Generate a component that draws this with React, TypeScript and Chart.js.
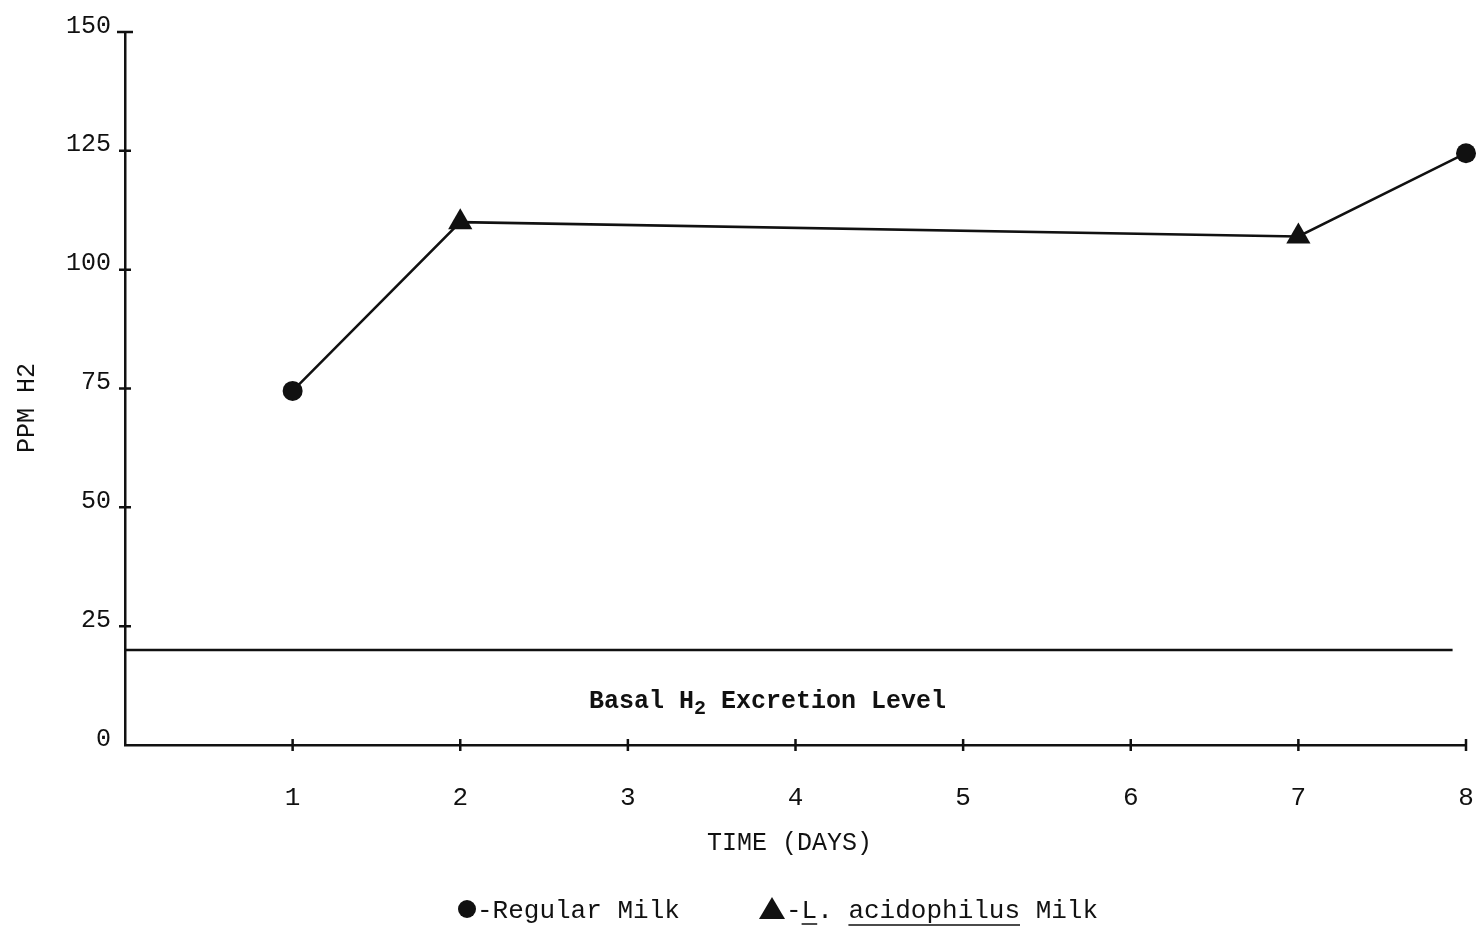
import React, { useEffect, useRef } from "react";
import { Chart, registerables } from "chart.js";

Chart.register(...registerables);

// Breath hydrogen over the feeding period
const DAYS = [1, 2, 7, 8];
const PPM_H2 = [74.5, 110, 107, 124.5];
const MILK_TYPE = ["regular", "acidophilus", "acidophilus", "regular"];
const BASAL_LEVEL = 20;
const BASAL_SPAN = [0, 7.92];
const X_TICKS = [0, 1, 2, 3, 4, 5, 6, 7, 8];
const Y_TICKS = [0, 25, 50, 75, 100, 125, 150];

const INK = "#111";
const MONO = '"Liberation Mono", "DejaVu Sans Mono", monospace';

const markerFor = (t: string) => (t === "regular" ? "circle" : "triangle");
const radiusFor = (t: string) => (t === "regular" ? 10 : 14);

const decorations = {
  id: "decorations",
  afterDraw(chart: any) {
    const { ctx, scales } = chart;
    const x = scales.x;
    const y = scales.y;
    ctx.save();
    ctx.strokeStyle = INK;
    ctx.fillStyle = INK;
    ctx.lineWidth = 2.5;

    // tick marks crossing the axes
    ctx.beginPath();
    for (const v of Y_TICKS) {
      if (v === 0) continue;
      const py = y.getPixelForValue(v);
      const half = v === 150 ? 8 : 6;
      ctx.moveTo(x.left - half, py);
      ctx.lineTo(x.left + half, py);
    }
    for (const d of X_TICKS) {
      if (d === 0) continue;
      const px = x.getPixelForValue(d);
      ctx.moveTo(px, y.bottom - 6);
      ctx.lineTo(px, y.bottom + 6);
    }
    ctx.stroke();

    // axis titles
    ctx.font = `25px ${MONO}`;
    ctx.textAlign = "center";
    ctx.textBaseline = "middle";
    ctx.fillText("TIME (DAYS)", (x.left + x.right) / 2 - 6, 843);
    ctx.save();
    ctx.translate(27, 408);
    ctx.rotate(-Math.PI / 2);
    ctx.fillText("PPM H2", 0, 0);
    ctx.restore();

    // basal level caption
    ctx.textAlign = "left";
    ctx.textBaseline = "alphabetic";
    const big = `bold 25px ${MONO}`;
    const small = `bold 20px ${MONO}`;
    let cx = 589;
    const by = y.getPixelForValue(BASAL_LEVEL) + 58;
    ctx.font = big;
    ctx.fillText("Basal H", cx, by);
    cx += ctx.measureText("Basal H").width;
    ctx.font = small;
    ctx.fillText("2", cx, by + 6);
    cx += ctx.measureText("2").width;
    ctx.font = big;
    ctx.fillText(" Excretion Level", cx, by);

    // legend
    const ly = 918;
    ctx.font = `26px ${MONO}`;
    ctx.beginPath();
    ctx.arc(467, ly - 9, 9, 0, Math.PI * 2);
    ctx.fill();
    ctx.fillText("-Regular Milk", 477, ly);

    ctx.beginPath();
    ctx.moveTo(772, ly - 21);
    ctx.lineTo(785, ly + 1);
    ctx.lineTo(759, ly + 1);
    ctx.closePath();
    ctx.fill();
    const t1 = "-";
    const t2 = "L";
    const t3 = ". ";
    const t4 = "acidophilus";
    const t5 = " Milk";
    let lx = 786;
    ctx.fillText(t1, lx, ly);
    lx += ctx.measureText(t1).width;
    const uL = lx;
    ctx.fillText(t2, lx, ly);
    lx += ctx.measureText(t2).width;
    const uLe = lx;
    ctx.fillText(t3, lx, ly);
    lx += ctx.measureText(t3).width;
    const uA = lx;
    ctx.fillText(t4, lx, ly);
    lx += ctx.measureText(t4).width;
    const uAe = lx;
    ctx.fillText(t5, lx, ly);
    ctx.lineWidth = 1.5;
    ctx.beginPath();
    ctx.moveTo(uL, ly + 6);
    ctx.lineTo(uLe, ly + 6);
    ctx.moveTo(uA, ly + 7);
    ctx.lineTo(uAe, ly + 7);
    ctx.stroke();

    ctx.restore();
  },
};

export default function App() {
  const canvasRef = useRef<HTMLCanvasElement>(null);

  useEffect(() => {
    if (!canvasRef.current) return;
    const chart = new Chart(canvasRef.current, {
      type: "line",
      data: {
        datasets: [
          {
            label: "PPM H2",
            data: DAYS.map((d, i) => ({ x: d, y: PPM_H2[i] })),
            borderColor: INK,
            backgroundColor: INK,
            borderWidth: 2.5,
            pointStyle: MILK_TYPE.map(markerFor) as any,
            pointRadius: MILK_TYPE.map(radiusFor),
            pointBackgroundColor: INK,
            pointBorderColor: INK,
            pointBorderWidth: 0,
            tension: 0,
            clip: false as any,
          },
          {
            label: "Basal",
            data: BASAL_SPAN.map((d) => ({ x: d, y: BASAL_LEVEL })),
            borderColor: INK,
            borderWidth: 2.5,
            pointRadius: 0,
            tension: 0,
          },
        ],
      },
      options: {
        animation: false,
        responsive: false,
        events: [],
        layout: { padding: { top: 32, right: 11, left: 0, bottom: 0 } },
        plugins: { legend: { display: false }, tooltip: { enabled: false } },
        scales: {
          x: {
            type: "linear",
            min: 0,
            max: 8,
            afterFit: (s: any) => {
              s.height = 183;
              s.paddingLeft = 0;
              s.paddingRight = 0;
            },
            afterBuildTicks: (s: any) => {
              s.ticks = X_TICKS.map((v) => ({ value: v }));
            },
            grid: { display: false, drawTicks: false },
            border: { display: true, color: INK, width: 2.5 },
            ticks: {
              padding: 38,
              color: INK,
              font: { family: MONO, size: 26 },
              callback: (v: any) => (v === 0 ? "" : String(v)),
              maxRotation: 0,
            },
          },
          y: {
            type: "linear",
            min: 0,
            max: 150,
            afterFit: (s: any) => {
              s.width = 125;
              s.paddingTop = 0;
              s.paddingBottom = 0;
            },
            afterBuildTicks: (s: any) => {
              s.ticks = Y_TICKS.map((v) => ({ value: v }));
            },
            grid: { display: false, drawTicks: false },
            border: { display: true, color: INK, width: 2.5 },
            ticks: {
              padding: 14,
              labelOffset: -6,
              color: INK,
              font: { family: MONO, size: 25 },
            },
          },
        },
      },
      plugins: [decorations],
    });
    return () => chart.destroy();
  }, []);

  return (
    <div
      style={{
        position: "fixed",
        left: 0,
        top: 0,
        width: 1477,
        height: 928,
        background: "#fff",
      }}
    >
      <canvas ref={canvasRef} width={1477} height={928} />
    </div>
  );
}
